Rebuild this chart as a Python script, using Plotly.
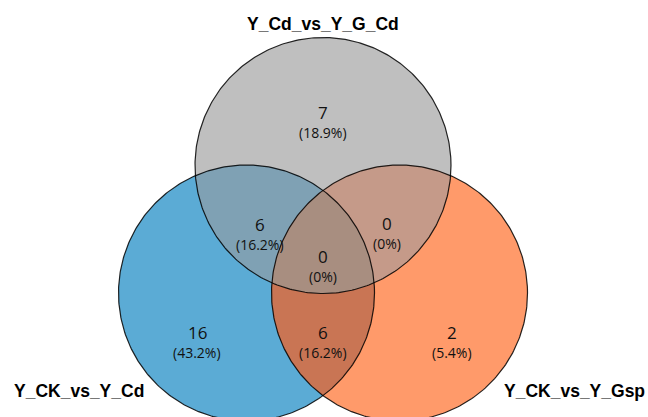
import numpy as np
import plotly.graph_objects as go

# Set names and region counts of the three-way Venn diagram
set_names = ["Y_CK_vs_Y_Cd", "Y_Cd_vs_Y_G_Cd", "Y_CK_vs_Y_Gsp"]
region_keys = ["100", "010", "001", "110", "011", "101", "111"]  # blue, gray, orange membership
region_counts = [16, 7, 2, 6, 0, 6, 0]

# Region fill colours
region_colors = {
    "100": "#5babd5",
    "010": "#bfbfbf",
    "001": "#ff9a6a",
    "110": "#7fa1b4",
    "011": "#c59a89",
    "101": "#c97554",
    "111": "#a88e80",
}

# Circle geometry in canvas pixel units (blue, gray, orange)
W, H = 648, 417
centers = [(246.5, 293.0), (323.0, 165.5), (399.5, 293.0)]
radius = 128.0

# Label anchors for each region (count, percent just below)
label_pos = {
    "100": (197, 332),
    "010": (323, 112),
    "001": (452, 332),
    "110": (260, 224),
    "011": (387, 223),
    "101": (323, 332),
    "111": (323, 256),
}


def circle_poly(c, r, n=360):
    t = np.linspace(0, 2 * np.pi, n, endpoint=False)
    return [(c[0] + r * np.cos(a), c[1] + r * np.sin(a)) for a in t]


def clip(subject, clipper):
    """Sutherland-Hodgman clip of a polygon by a convex polygon."""
    def inside(p, a, b):
        return (b[0] - a[0]) * (p[1] - a[1]) - (b[1] - a[1]) * (p[0] - a[0]) >= 0

    def inter(p, q, a, b):
        x1, y1 = p; x2, y2 = q; x3, y3 = a; x4, y4 = b
        d = (x1 - x2) * (y3 - y4) - (y1 - y2) * (x3 - x4)
        if abs(d) < 1e-12:
            return q
        t = ((x1 - x3) * (y3 - y4) - (y1 - y3) * (x3 - x4)) / d
        return (x1 + t * (x2 - x1), y1 + t * (y2 - y1))

    out = subject
    n = len(clipper)
    for i in range(n):
        a, b = clipper[i], clipper[(i + 1) % n]
        inp = out
        out = []
        if not inp:
            break
        s = inp[-1]
        for e in inp:
            if inside(e, a, b):
                if not inside(s, a, b):
                    out.append(inter(s, e, a, b))
                out.append(e)
            elif inside(s, a, b):
                out.append(inter(s, e, a, b))
            s = e
    return out


polys = [circle_poly(c, radius) for c in centers]
blue, gray, orange = polys

fig = go.Figure()


def add_fill(poly, color):
    xs = [p[0] for p in poly] + [poly[0][0]]
    ys = [p[1] for p in poly] + [poly[0][1]]
    fig.add_trace(go.Scatter(x=xs, y=ys, mode="lines", fill="toself",
                             fillcolor=color, line=dict(width=0, color=color),
                             hoverinfo="skip", showlegend=False))


# Whole circles, then pairwise lenses, then the triple overlap
add_fill(gray, region_colors["010"])
add_fill(blue, region_colors["100"])
add_fill(orange, region_colors["001"])
add_fill(clip(blue, gray), region_colors["110"])
add_fill(clip(gray, orange), region_colors["011"])
add_fill(clip(blue, orange), region_colors["101"])
add_fill(clip(clip(blue, gray), orange), region_colors["111"])

# Circle outlines
for poly in polys:
    xs = [p[0] for p in poly] + [poly[0][0]]
    ys = [p[1] for p in poly] + [poly[0][1]]
    fig.add_trace(go.Scatter(x=xs, y=ys, mode="lines",
                             line=dict(width=1.2, color="rgba(0,0,0,0.85)"),
                             hoverinfo="skip", showlegend=False))

total = sum(region_counts)


def pct(v):
    s = f"{v / total * 100:.1f}"
    if s.endswith(".0"):
        s = s[:-2]
    return f"({s}%)"


annotations = []
for key, cnt in zip(region_keys, region_counts):
    x, y = label_pos[key]
    annotations.append(dict(x=x, y=y, text=str(cnt), showarrow=False,
                            font=dict(family="Open Sans", size=17, color="#111"),
                            xanchor="center", yanchor="middle", borderpad=0))
    annotations.append(dict(x=x, y=y + 20, text=pct(cnt), showarrow=False,
                            font=dict(family="Open Sans", size=14, color="#111"),
                            xanchor="center", yanchor="middle", borderpad=0))

# Set titles
title_pos = [(79, 391), (323, 24), (574, 391)]
for name, (x, y) in zip(set_names, title_pos):
    annotations.append(dict(x=x, y=y, text=f"<b>{name}</b>", showarrow=False,
                            font=dict(family="Liberation Sans", size=17.5, color="#000"),
                            xanchor="center", yanchor="middle"))

fig.update_layout(
    width=W, height=H,
    margin=dict(l=0, r=0, t=0, b=0),
    paper_bgcolor="white", plot_bgcolor="white",
    xaxis=dict(range=[0, W], visible=False, fixedrange=True),
    yaxis=dict(range=[H, 0], visible=False, fixedrange=True),
    annotations=annotations,
)

fig.write_html("out.html")
